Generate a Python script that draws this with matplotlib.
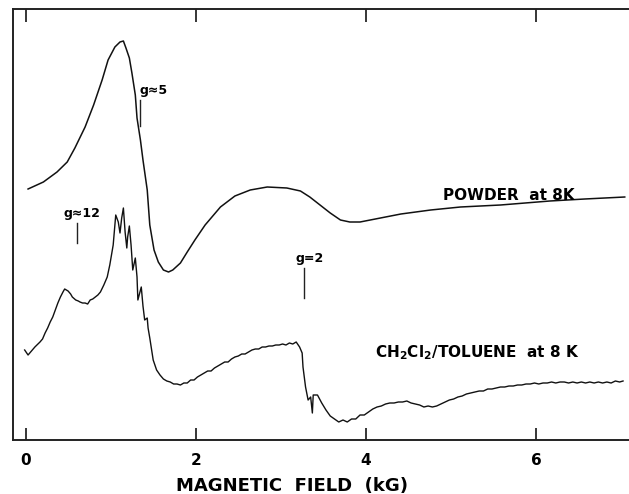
import numpy as np
import matplotlib
matplotlib.use('Agg')
import matplotlib.pyplot as plt

plt.rcParams['font.family'] = 'DejaVu Sans'
plt.rcParams['mathtext.fontset'] = 'custom'
plt.rcParams['mathtext.rm'] = 'DejaVu Sans:bold'
plt.rcParams['mathtext.default'] = 'rm'

# EPR spectra, field in kG, signal in arbitrary units
field_powder = [0.03, 0.21, 0.37, 0.49, 0.58, 0.70, 0.80, 0.90, 0.97, 1.05, 1.11, 1.15,
                1.18, 1.22, 1.25, 1.29, 1.31, 1.35, 1.38, 1.43, 1.46, 1.51, 1.56, 1.62,
                1.68, 1.73, 1.82, 1.90, 1.99, 2.11, 2.29, 2.46, 2.64, 2.84, 3.07, 3.23,
                3.34, 3.46, 3.58, 3.70, 3.81, 3.93, 4.11, 4.41, 4.76, 5.11, 5.58, 6.16,
                6.57, 7.04]
signal_powder = [251, 258, 268, 278, 292, 313, 335, 360, 380, 393, 398, 399,
                 392, 382, 367, 345, 322, 300, 280, 250, 215, 190, 178, 170,
                 168, 170, 177, 188, 200, 215, 233, 244, 250, 253, 252, 249,
                 243, 235, 227, 220, 218, 218, 221, 226, 230, 233, 235, 239,
                 241, 243]

field_soln = [-0.01, 0.03, 0.06, 0.11, 0.17, 0.20, 0.23, 0.26, 0.29, 0.32, 0.35, 0.38,
              0.41, 0.44, 0.46, 0.50, 0.53, 0.55, 0.59, 0.62, 0.64, 0.67, 0.70, 0.73,
              0.76, 0.79, 0.82, 0.85, 0.88, 0.92, 0.96, 0.99, 1.03, 1.06, 1.09, 1.11,
              1.13, 1.15, 1.17, 1.19, 1.20, 1.22, 1.24, 1.26, 1.29, 1.31, 1.32, 1.35,
              1.36, 1.38, 1.40, 1.43, 1.44, 1.46,
              1.50, 1.54, 1.58, 1.62, 1.66, 1.70, 1.74, 1.78, 1.82, 1.86, 1.90, 1.94,
              1.98, 2.02, 2.06, 2.10, 2.14, 2.18, 2.22, 2.26, 2.30, 2.34, 2.38, 2.42,
              2.46, 2.50, 2.54, 2.58, 2.62, 2.66, 2.70, 2.74, 2.78, 2.82, 2.86, 2.90,
              2.94, 2.98, 3.02, 3.06, 3.10, 3.14, 3.18, 3.22,
              3.25, 3.26, 3.29, 3.32, 3.35, 3.37, 3.38,
              3.43, 3.48, 3.53, 3.58, 3.63, 3.68, 3.73, 3.78, 3.83, 3.88, 3.93, 3.98,
              4.03, 4.08, 4.13, 4.18, 4.23, 4.28, 4.33, 4.38, 4.43, 4.48, 4.53, 4.58,
              4.63, 4.68, 4.73, 4.78, 4.83, 4.88, 4.93, 4.98, 5.03, 5.08, 5.13, 5.18,
              5.23, 5.28, 5.33, 5.38, 5.43, 5.48, 5.53, 5.58, 5.63, 5.68, 5.73, 5.78,
              5.83, 5.88, 5.93, 5.98, 6.03, 6.08, 6.13, 6.18, 6.23, 6.28, 6.33, 6.38,
              6.43, 6.48, 6.53, 6.58, 6.63, 6.68, 6.73, 6.78, 6.83, 6.88, 6.93, 6.98, 7.02]
signal_soln = [90, 85, 88, 93, 98, 101, 107, 112, 118, 123, 130, 137,
               143, 148, 151, 149, 146, 143, 140, 139, 138, 137, 137, 136,
               140, 141, 143, 145, 148, 155, 163, 175, 195, 225, 218, 207,
               222, 232, 208, 192, 203, 214, 195, 170, 182, 163, 140, 150,
               153, 134, 120, 122, 112, 102,
               80, 70, 65, 61, 59, 58, 56, 56, 55, 57, 57, 60,
               60, 63, 65, 67, 69, 69, 72, 74, 76, 78, 78, 81,
               83, 84, 86, 86, 88, 90, 91, 91, 93, 93, 94, 94,
               95, 95, 96, 95, 97, 96, 98, 93,
               87, 73, 53, 40, 43, 27, 45,
               45, 37, 30, 24, 21, 18, 20, 18, 21, 21, 25, 25,
               28, 31, 33, 34, 36, 37, 37, 38, 38, 39, 37, 36,
               35, 33, 34, 33, 34, 36, 38, 40, 41, 43, 44, 46,
               47, 48, 49, 49, 51, 51, 52, 53, 53, 54, 54, 55,
               55, 56, 56, 57, 56, 57, 57, 58, 57, 58, 58, 57,
               58, 57, 58, 57, 58, 57, 58, 57, 58, 57, 59, 58, 59]

# g-value markers: field position, label, tick span, label x
g_field = [0.61, 1.345, 3.27]
g_text = ['g\u224812', 'g\u22485', 'g=2']
g_tick_lo = [197, 314, 142]
g_tick_hi = [217, 340, 172]
g_text_x = [0.45, 1.335, 3.17]

fig = plt.figure(figsize=(6.29, 4.94), dpi=100)
ax = fig.add_axes([13 / 629, 1 - 440 / 494, 616 / 629, 431 / 494])

ax.plot(field_powder, signal_powder, color='#111111', lw=1.1)
ax.plot(field_soln, signal_soln, color='#111111', lw=1.0)

for f, t, lo, hi, tx in zip(g_field, g_text, g_tick_lo, g_tick_hi, g_text_x):
    ax.plot([f, f], [lo, hi], color='#222222', lw=1.0)
    ax.text(tx, hi + 3, t, fontsize=9, fontweight='bold', ha='left', va='bottom')

ax.text(4.90, 240, 'POWDER  at 8K', fontsize=11, fontweight='bold', ha='left', va='baseline')
ax.text(4.11, 83, 'CH$_2$Cl$_2$/TOLUENE  at 8 K', fontsize=11, fontweight='bold',
        ha='left', va='baseline')

ax.set_xlim(-0.147, 7.09)
ax.set_ylim(0, 431)
ax.set_xticks([0, 2, 4, 6])
ax.set_yticks([])
ax.tick_params(axis='x', direction='in', length=9, width=1.1, top=True,
               labelsize=11, pad=9)
for lab in ax.get_xticklabels():
    lab.set_fontweight('bold')
for side in ['left', 'bottom', 'top']:
    ax.spines[side].set_linewidth(1.4)
    ax.spines[side].set_color('#222222')
ax.spines['right'].set_visible(False)

ax.set_xlabel('MAGNETIC  FIELD  (kG)', fontsize=13, fontweight='bold')
ax.xaxis.set_label_coords(0.453, -0.086)

fig.savefig('out.png', dpi=100)
